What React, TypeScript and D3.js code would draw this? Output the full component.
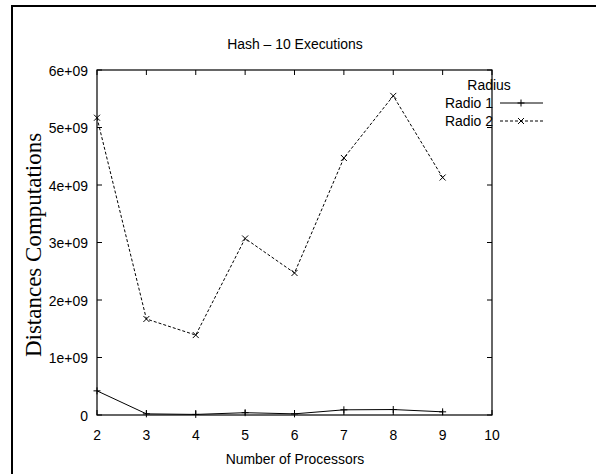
import React from "react";
import * as d3 from "d3";

const processors = [2, 3, 4, 5, 6, 7, 8, 9];
const radio1 = [0.42e9, 0.02e9, 0.01e9, 0.04e9, 0.02e9, 0.09e9, 0.095e9, 0.055e9];
const radio2 = [5.17e9, 1.67e9, 1.39e9, 3.07e9, 2.47e9, 4.47e9, 5.55e9, 4.13e9];
const xTicks = [2, 3, 4, 5, 6, 7, 8, 9, 10];
const yTicks = [0, 1e9, 2e9, 3e9, 4e9, 5e9, 6e9];
const yTickLabels = ["0", "1e+09", "2e+09", "3e+09", "4e+09", "5e+09", "6e+09"];
const seriesNames = ["Radio 1", "Radio 2"];

const W = 596, H = 474;
const L = 97, R = 492, T = 70, B = 415;
const sans = "'Liberation Sans', Arial, sans-serif";

function Txt(props: { x: number; y: number; anchor?: string; children: React.ReactNode }) {
  return (
    <text
      transform={`translate(${props.x},${props.y}) scale(0.93,1)`}
      textAnchor={props.anchor || "start"}
      fontFamily={sans}
      fontSize={15}
      fill="#000"
    >
      {props.children}
    </text>
  );
}

export default function App() {
  const x = d3.scaleLinear().domain([2, 10]).range([L, R]);
  const y = d3.scaleLinear().domain([0, 6e9]).range([B, T]);
  const line = d3.line<number>().x((_, i) => x(processors[i])).y((d) => y(d));
  const tk = 5;
  const plus = (cx: number, cy: number, k: string) => (
    <path key={k} d={`M${cx - 3.5},${cy}H${cx + 3.5}M${cx},${cy - 3.5}V${cy + 3.5}`} stroke="#000" strokeWidth={1} />
  );
  const cross = (cx: number, cy: number, k: string) => (
    <path key={k} d={`M${cx - 3},${cy - 3}L${cx + 3},${cy + 3}M${cx - 3},${cy + 3}L${cx + 3},${cy - 3}`} stroke="#000" strokeWidth={1} />
  );
  return (
    <svg width={W} height={H} style={{ position: "absolute", left: 0, top: 0 }}>
      <rect x={0} y={0} width={W} height={H} fill="#fff" />
      <rect x={12} y={6} width={W + 20} height={H + 20} fill="none" stroke="#000" strokeWidth={2} />
      <Txt x={295} y={49} anchor="middle">Hash – 10 Executions</Txt>
      <rect x={L} y={T} width={R - L} height={B - T} fill="none" stroke="#000" strokeWidth={1.2} />
      {xTicks.map((t) => (
        <g key={"x" + t}>
          <line x1={x(t)} x2={x(t)} y1={B} y2={B - tk} stroke="#000" />
          <line x1={x(t)} x2={x(t)} y1={T} y2={T + tk} stroke="#000" />
          <Txt x={x(t)} y={440} anchor="middle">{t}</Txt>
        </g>
      ))}
      {yTicks.map((t, i) => (
        <g key={"y" + t}>
          <line x1={L} x2={L + tk} y1={y(t)} y2={y(t)} stroke="#000" />
          <line x1={R} x2={R - tk} y1={y(t)} y2={y(t)} stroke="#000" />
          <Txt x={L - 9} y={y(t) + 5.5} anchor="end">{yTickLabels[i]}</Txt>
        </g>
      ))}
      <Txt x={295} y={464} anchor="middle">Number of Processors</Txt>
      <text transform={`translate(41,245) rotate(-90)`} textAnchor="middle" fontFamily="'Liberation Serif', 'Times New Roman', serif" fontSize={23}>Distances Computations</text>
      <path d={line(radio1) || ""} fill="none" stroke="#000" strokeWidth={1} />
      {radio1.map((d, i) => plus(x(processors[i]), y(d), "p" + i))}
      <path d={line(radio2) || ""} fill="none" stroke="#000" strokeWidth={1} strokeDasharray="3,2" />
      {radio2.map((d, i) => cross(x(processors[i]), y(d), "c" + i))}
      <Txt x={489} y={90} anchor="middle">Radius</Txt>
      <Txt x={493} y={108} anchor="end">{seriesNames[0]}</Txt>
      <line x1={500} x2={543} y1={103} y2={103} stroke="#000" strokeWidth={1} />
      {plus(521, 103, "lp")}
      <Txt x={493} y={126} anchor="end">{seriesNames[1]}</Txt>
      <line x1={500} x2={543} y1={121} y2={121} stroke="#000" strokeWidth={1} strokeDasharray="3,2" />
      {cross(521, 121, "lc")}
    </svg>
  );
}
